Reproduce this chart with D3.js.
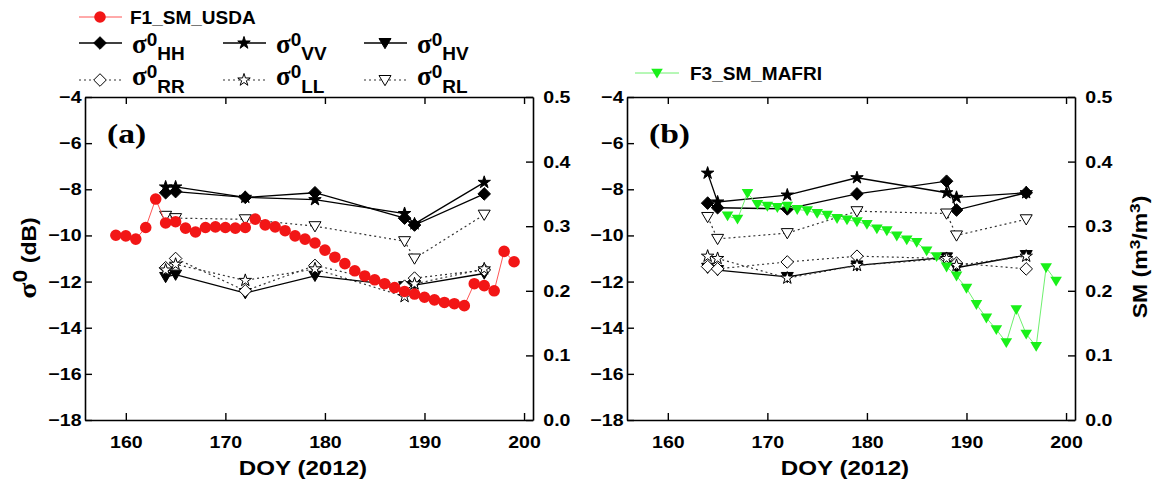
<!DOCTYPE html>
<html>
<head>
<meta charset="utf-8">
<script src="https://cdn.jsdelivr.net/npm/d3@7"></script>
<style>
  body { margin: 0; background: #fff; }
  text { font-family: "Liberation Sans", Arial, sans-serif; font-weight: bold; fill: #000; }
  .serif { font-family: "Liberation Serif", "Times New Roman", serif; }
</style>
</head>
<body>
<svg id="fig"></svg>
<script>
// size / layout
const WIDTH = 1157;
const HEIGHT = 483;
const TOP = 97;
const BOTTOM = 420;
const PANEL_A = { left: 85, right: 533 };
const PANEL_B = { left: 627, right: 1075 };
const TEXT_SX = 1.15; // axis fonts in the figure are wider than Arial

// data
const xTicks = [160, 170, 180, 190, 200];
const sigmaTicks = [-4, -6, -8, -10, -12, -14, -16, -18];
const smTicks = [0.0, 0.1, 0.2, 0.3, 0.4, 0.5];

const radarDoy = [164, 165, 172, 179, 188, 189, 196];

// panel (a) backscatter, dB
const hhA = [-8.15, -8.1, -8.35, -8.15, -9.25, -9.55, -8.2];
const vvA = [-7.9, -7.9, -8.35, -8.45, -9.05, -9.5, -7.7];
const hvA = [-11.8, -11.7, -12.5, -11.75, -12.2, -12.15, -11.65];
const rrA = [-11.4, -11.0, -12.4, -11.3, -12.2, -11.85, -11.5];
const llA = [-11.5, -11.25, -11.95, -11.45, -12.65, -12.1, -11.45];
const rlA = [-9.15, -9.25, -9.3, -9.6, -10.25, -11.0, -9.1];

// panel (b) backscatter, dB
const hhB = [-8.6, -8.8, -8.85, -8.2, -7.65, -8.9, -8.15];
const vvB = [-7.3, -8.55, -8.25, -7.5, -8.15, -8.35, -8.15];
const hvB = [-11.4, -11.5, -11.8, -11.3, -10.95, -11.4, -10.85];
const rrB = [-11.35, -11.45, -11.15, -10.9, -11.0, -11.2, -11.45];
const llB = [-10.9, -11.0, -11.85, -11.3, -11.0, -11.3, -10.9];
const rlB = [-9.2, -10.15, -9.9, -8.95, -9.05, -10.0, -9.3];

// soil moisture, m3/m3
const usdaDoy = [159, 160, 161, 162, 163, 164, 165, 166, 167, 168, 169, 170, 171, 172,
  173, 174, 175, 176, 177, 178, 179, 180, 181, 182, 183, 184, 185, 186, 187, 188,
  189, 190, 191, 192, 193, 194, 195, 196, 197, 198, 199];
const usdaSM = [0.286, 0.285, 0.280, 0.298, 0.342, 0.305, 0.307, 0.297, 0.291, 0.298,
  0.299, 0.298, 0.297, 0.298, 0.311, 0.302, 0.299, 0.293, 0.285, 0.280, 0.274, 0.263,
  0.252, 0.242, 0.231, 0.223, 0.217, 0.211, 0.205, 0.199, 0.195, 0.190, 0.186, 0.182,
  0.180, 0.177, 0.211, 0.208, 0.200, 0.261, 0.245];

const mafriDoy = [166, 167, 168, 169, 170, 171, 172, 173, 174, 175, 176, 177, 178, 179,
  180, 181, 182, 183, 184, 185, 186, 187, 188, 189, 190, 191, 192, 193, 194, 195, 196,
  197, 198, 199];
const mafriSM = [0.316, 0.311, 0.351, 0.334, 0.331, 0.329, 0.331, 0.326, 0.324, 0.320,
  0.317, 0.312, 0.310, 0.307, 0.303, 0.296, 0.293, 0.285, 0.279, 0.275, 0.262, 0.253,
  0.237, 0.223, 0.204, 0.179, 0.158, 0.140, 0.120, 0.171, 0.133, 0.114, 0.236, 0.215];

// marker shapes
const diamond = s => `M0,${-s}L${s},0L0,${s}L${-s},0Z`;
const triDown = s => `M${-s},${-s * 0.75}L${s},${-s * 0.75}L0,${s * 0.95}Z`;
const star = () => d3.symbol(d3.symbolStar, 48)();
const RED_R = 5.8;

const radarStyles = [
  { pol: 'HH', shape: () => diamond(6.3), fill: '#000', dash: null },
  { pol: 'VV', shape: star, fill: '#000', dash: null },
  { pol: 'HV', shape: () => triDown(6), fill: '#000', dash: null },
  { pol: 'RR', shape: () => diamond(6.3), fill: '#fff', dash: '2,3' },
  { pol: 'LL', shape: star, fill: '#fff', dash: '2,3' },
  { pol: 'RL', shape: () => triDown(6), fill: '#fff', dash: '2,3' }
];

const svg = d3.select('#fig')
  .attr('width', WIDTH)
  .attr('height', HEIGHT);

const xDomain = [155.9, 200.9];
const yScale = d3.scaleLinear().domain([-18, -4]).range([BOTTOM, TOP]);
const smScale = d3.scaleLinear().domain([0, 0.5]).range([BOTTOM, TOP]);

function styleAxis(g) {
  g.select('.domain').attr('stroke', '#000').attr('stroke-width', 1.6);
  g.selectAll('.tick line').attr('stroke', '#000').attr('stroke-width', 1.4);
  g.selectAll('text')
    .attr('font-size', 17)
    .attr('transform', `scale(${TEXT_SX},1)`);
}

function drawPanel(p, series, sm, opts) {
  const x = d3.scaleLinear().domain(xDomain).range([p.left, p.right]);

  svg.append('g')
    .attr('transform', `translate(0,${BOTTOM})`)
    .call(d3.axisBottom(x).tickValues(xTicks).tickSizeInner(-7).tickSizeOuter(0).tickPadding(16))
    .call(styleAxis);
  svg.append('g')
    .attr('transform', `translate(0,${TOP})`)
    .call(d3.axisTop(x).tickValues(xTicks).tickSizeInner(-7).tickSizeOuter(0).tickFormat(''))
    .call(styleAxis);
  svg.append('g')
    .attr('transform', `translate(${p.left},0)`)
    .call(d3.axisLeft(yScale).tickValues(sigmaTicks).tickSizeInner(-7).tickSizeOuter(0).tickPadding(3))
    .call(styleAxis);
  svg.append('g')
    .attr('transform', `translate(${p.right},0)`)
    .call(d3.axisRight(smScale).tickValues(smTicks).tickSizeInner(-7).tickSizeOuter(0)
      .tickPadding(9).tickFormat(d3.format('.1f')))
    .call(styleAxis);

  // x title
  svg.append('text')
    .attr('transform', `translate(${(p.left + p.right) / 2 - 6},${475}) scale(${TEXT_SX},1)`)
    .attr('text-anchor', 'middle')
    .attr('font-size', 21)
    .text('DOY (2012)');

  // panel letter
  svg.append('text')
    .attr('class', 'serif')
    .attr('transform', `translate(${p.left + 22},${143}) scale(1.2,1)`)
    .attr('font-size', 28)
    .text(opts.letter);

  // radar series
  const line = d3.line().x(d => x(d.doy)).y(d => yScale(d.v));
  series.forEach((vals, i) => {
    const st = radarStyles[i];
    const pts = radarDoy.map((doy, j) => ({ doy, v: vals[j] }));
    svg.append('path')
      .datum(pts)
      .attr('d', line)
      .attr('fill', 'none')
      .attr('stroke', st.dash ? '#333' : '#000')
      .attr('stroke-width', st.dash ? 1.2 : 1.3)
      .attr('stroke-dasharray', st.dash);
  });
  series.forEach((vals, i) => {
    const st = radarStyles[i];
    svg.append('g').selectAll('path')
      .data(radarDoy.map((doy, j) => ({ doy, v: vals[j] })))
      .enter().append('path')
      .attr('transform', d => `translate(${x(d.doy)},${yScale(d.v)})`)
      .attr('d', st.shape())
      .attr('fill', st.fill)
      .attr('stroke', '#000')
      .attr('stroke-width', 1);
  });

  // soil moisture series
  const smPts = sm.doy.map((doy, j) => ({ doy, v: sm.values[j] }));
  svg.append('path')
    .datum(smPts)
    .attr('d', d3.line().x(d => x(d.doy)).y(d => smScale(d.v)))
    .attr('fill', 'none')
    .attr('stroke', sm.lineColor)
    .attr('stroke-width', 1);
  const marks = svg.append('g').selectAll('path')
    .data(smPts).enter().append('path')
    .attr('transform', d => `translate(${x(d.doy)},${smScale(d.v)})`)
    .attr('fill', sm.color);
  if (sm.marker === 'circle') {
    marks.attr('d', d3.symbol(d3.symbolCircle, Math.PI * RED_R * RED_R)());
  } else {
    marks.attr('d', triDown(5.8));
  }
}

drawPanel(PANEL_A, [hhA, vvA, hvA, rrA, llA, rlA],
  { doy: usdaDoy, values: usdaSM, color: '#f21616', lineColor: '#f55', marker: 'circle' },
  { letter: '(a)' });
drawPanel(PANEL_B, [hhB, vvB, hvB, rrB, llB, rlB],
  { doy: mafriDoy, values: mafriSM, color: '#19f019', lineColor: '#6ef06e', marker: 'tri' },
  { letter: '(b)' });

// y titles
const yTitle = svg.append('text')
  .attr('transform', `translate(36,258) rotate(-90) scale(${TEXT_SX},1)`)
  .attr('text-anchor', 'middle')
  .attr('font-size', 20);
yTitle.append('tspan').attr('class', 'serif').attr('font-size', 26).text('σ');
yTitle.append('tspan').attr('dy', -9).text('0');
yTitle.append('tspan').attr('dy', 9).text(' (dB)');

const smTitle = svg.append('text')
  .attr('transform', `translate(1147,257) rotate(-90) scale(${TEXT_SX},1)`)
  .attr('text-anchor', 'middle')
  .attr('font-size', 20);
smTitle.append('tspan').text('SM (m');
smTitle.append('tspan').attr('dy', -7).attr('font-size', 15).text('3');
smTitle.append('tspan').attr('dy', 7).text('/m');
smTitle.append('tspan').attr('dy', -7).attr('font-size', 15).text('3');
smTitle.append('tspan').attr('dy', 7).text(')');

// legends
const legend = svg.append('g').attr('id', 'legend');

function legendLine(x1, x2, y, color, dash, width) {
  legend.append('line')
    .attr('x1', x1).attr('x2', x2).attr('y1', y).attr('y2', y)
    .attr('stroke', color)
    .attr('stroke-width', width)
    .attr('stroke-dasharray', dash);
}

legendLine(79, 122, 17, '#f55', null, 1);
legend.append('path')
  .attr('transform', 'translate(100,17)')
  .attr('d', d3.symbol(d3.symbolCircle, Math.PI * RED_R * RED_R)())
  .attr('fill', '#f21616');
legend.append('text').attr('x', 130).attr('y', 24).attr('font-size', 19).text('F1_SM_USDA');

const legendCols = [79, 223, 364];
const legendRows = [{ y: 43, base: 53, sub: 13 }, { y: 80, base: 85, sub: 14 }];
radarStyles.forEach((st, i) => {
  const col = legendCols[i % 3];
  const row = legendRows[Math.floor(i / 3)];
  legendLine(col, col + 43, row.y, st.dash ? '#333' : '#000', st.dash, st.dash ? 1.2 : 1.3);
  legend.append('path')
    .attr('transform', `translate(${col + 21},${row.y})`)
    .attr('d', st.shape())
    .attr('fill', st.fill)
    .attr('stroke', '#000')
    .attr('stroke-width', 1);
  const t = legend.append('text')
    .attr('x', col + 53).attr('y', row.base)
    .attr('font-size', 19);
  t.append('tspan').attr('class', 'serif').attr('font-size', 27).text('σ');
  t.append('tspan').attr('dy', -7).text('0');
  t.append('tspan').attr('dy', row.sub + 1).text(st.pol);
});

legendLine(635, 679, 73, '#6ef06e', null, 1);
legend.append('path')
  .attr('transform', 'translate(657,73)')
  .attr('d', triDown(5.8))
  .attr('fill', '#19f019');
legend.append('text').attr('x', 690).attr('y', 80).attr('font-size', 19).text('F3_SM_MAFRI');
</script>
</body>
</html>
